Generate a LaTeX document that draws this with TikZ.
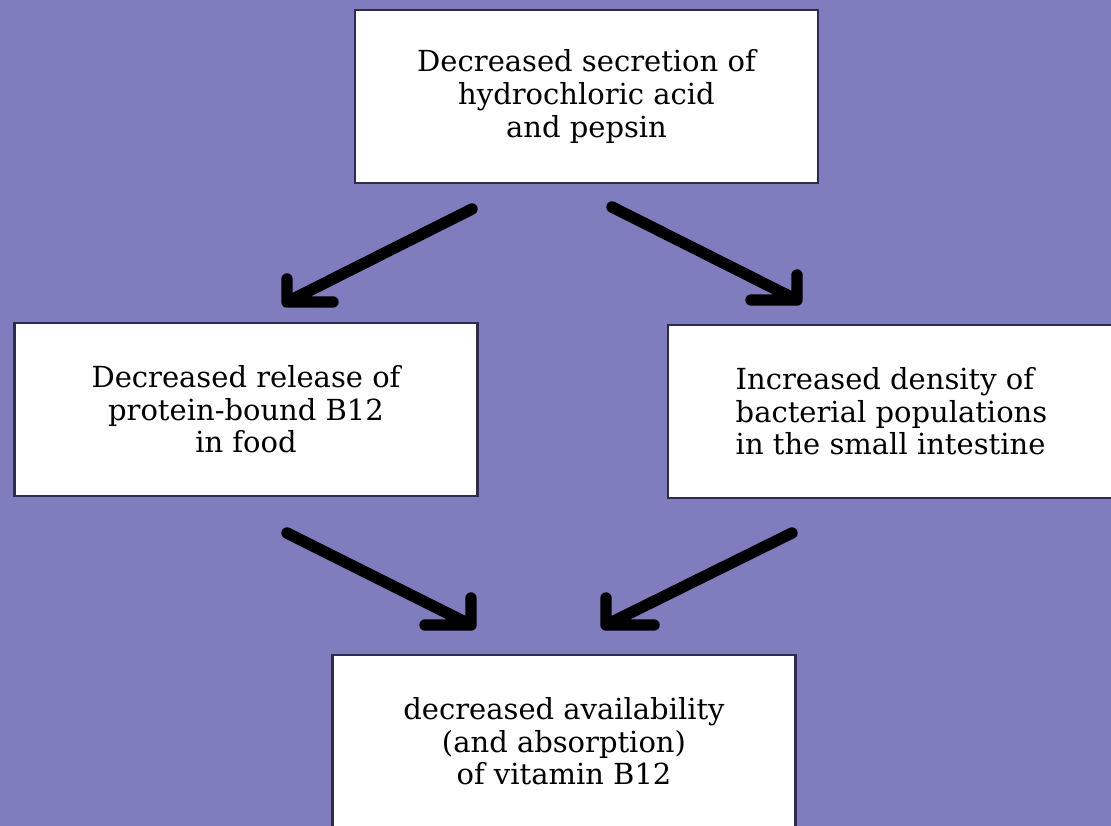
\documentclass[tikz,border=0pt]{standalone}
\usepackage{fontspec}
\setmainfont{DejaVu Serif}
\usetikzlibrary{arrows.meta}
\definecolor{bgpurple}{RGB}{128,125,190}
\definecolor{boxedge}{RGB}{45,45,75}

\begin{document}
\begin{tikzpicture}[
        box/.style={draw=boxedge, line width=1.5pt, fill=white, minimum width=9.26cm, minimum height=3.46cm, align=center, inner sep=0pt, font=\fontsize{16.5}{18.5}\selectfont},
        flow/.style={line width=6.5pt, line cap=round, line join=round}
    ]
            \fill[bgpurple] (0,0) rectangle (22.22,-16.52);
            \useasboundingbox (0,0) rectangle (22.22,-16.52);

            \node[box] (A) at (11.73,-1.93) {Decreased secretion of\\hydrochloric acid\\and pepsin};
            \node[box] (B) at (4.92,-8.19) {Decreased release of\\protein-bound B12\\in food};
            \node[box, minimum width=8.94cm, align=left] (C) at (17.83,-8.23) {Increased density of\\bacterial populations\\in the small intestine};
            \node[box] (D) at (11.28,-14.83) {decreased availability\\(and absorption)\\of vitamin B12};

            % shaft ends
            \coordinate (a1) at (9.44,-4.18);
            \coordinate (b1) at (5.74,-6.04);
            \coordinate (a2) at (12.24,-4.14);
            \coordinate (c1) at (15.94,-6.0);
            \coordinate (b2) at (5.74,-10.66);
            \coordinate (d1) at (9.42,-12.5);
            \coordinate (c2) at (15.84,-10.66);
            \coordinate (d2) at (12.12,-12.5);

            % arrows with square heads
            \draw[flow] (a1) -- (b1) ([yshift=0.46cm]b1) -- (b1) -- ([xshift=0.92cm]b1);
            \draw[flow] (a2) -- (c1) ([yshift=0.5cm]c1) -- (c1) -- ([xshift=-0.92cm]c1);
            \draw[flow] (b2) -- (d1) ([yshift=0.54cm]d1) -- (d1) -- ([xshift=-0.92cm]d1);
            \draw[flow] (c2) -- (d2) ([yshift=0.54cm]d2) -- (d2) -- ([xshift=0.96cm]d2);
        \end{tikzpicture}
\end{document}
